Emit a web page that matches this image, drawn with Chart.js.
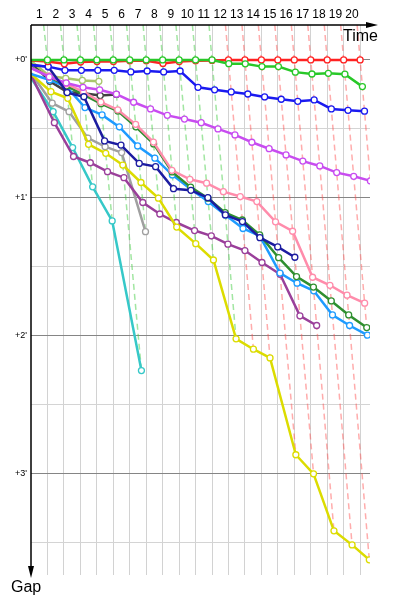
<!DOCTYPE html>
<html>
<head>
<meta charset="utf-8">
<script src="https://cdn.jsdelivr.net/npm/chart.js@4.4.0/dist/chart.umd.min.js"></script>
<style>
  body { margin: 0; background: #fff; }
</style>
</head>
<body>
<canvas id="gap-chart" width="400" height="600"></canvas>
<script>
// lap index 0..20, gaps to the leader in seconds (one value per completed lap)
const laps = [0, 1, 2, 3, 4, 5, 6, 7, 8, 9, 10, 11, 12, 13, 14, 15, 16, 17, 18, 19, 20];
// leader lap time (s) used to place a lap-k crossing on the time axis
const lapSec = [null, 65, 72, 74, 75, 79, 78, 81, 85, 79, 80, 83, 83, 85, 82, 83, 85, 84, 85, 83, 84];

const gapGreen  = [0, 0, 0, 0, 0, 0, 0, 0, 0, 0, 0, 0, 1.6, 1.7, 2.9, 2.9, 5.3, 6.1, 5.8, 6.2, 11.6];
const gapRed    = [0.2, 0.7, 1.7, 0.9, 0.7, 0.7, 0.4, 0.4, 1.5, 0.7, 0.4, 0.2, 0, 0, 0, 0, 0, 0, 0, 0, 0];
const gapBlue   = [2.2, 2.9, 4.5, 4.5, 4.5, 4.5, 5.2, 4.8, 5.2, 4.8, 11.9, 13.0, 13.9, 14.8, 16.1, 17.1, 18.0, 17.4, 21.3, 21.9, 22.3];
const gapNavy   = [2.2, 3.0, 14.2, 16.0, 35.2, 37.0, 45.0, 46.4, 56.0, 56.7, 59.9, 67.4, 70.3, 77.3, 81.3, 85.8];
const gapViolet = [3.5, 7.4, 10.0, 11.9, 13.0, 14.9, 18.4, 21.3, 24.1, 25.7, 27.3, 30.0, 32.6, 35.8, 38.6, 41.3, 44.0, 46.1, 49.0, 50.6, 52.6];
const gapPink   = [3.5, 7.0, 10.4, 13.9, 18.3, 21.7, 28.0, 35.7, 48.0, 51.9, 53.6, 57.3, 59.4, 61.6, 70.4, 74.5, 94.5, 98.0, 102.3, 105.8];
const gapDkGreen = [3.0, 7.4, 11.3, 15.2, 19.0, 22.2, 29.1, 36.5, 48.7, 55.3, 60.1, 66.4, 69.6, 76.1, 86.0, 94.2, 98.8, 104.8, 110.9, 116.4];
const gapLtBlue = [6.1, 8.7, 11.7, 20.7, 23.9, 29.1, 37.4, 42.7, 50.0, 56.2, 61.6, 67.4, 73.3, 76.5, 92.7, 97.1, 100.4, 110.9, 115.5, 119.7];
const gapYellow = [6.1, 13.8, 16.7, 36.7, 40.6, 45.7, 53.3, 60.1, 72.7, 79.9, 87.0, 121.3, 125.8, 129.6, 171.7, 180.0, 204.8, 210.9, 217.4];
const gapPurple = [6.5, 27.3, 42.0, 44.7, 48.6, 51.2, 62.0, 67.0, 70.7, 74.2, 76.5, 80.1, 82.9, 88.1, 93.2, 111.3, 115.5];
const gapGray   = [5.7, 18.8, 22.5, 34.0, 37.7, 40.3, 74.7];
const gapCyan   = [7.8, 22.5, 38.1, 55.2, 70.0, 135.1];
const gapOlive  = [0.4, 7.0, 8.0, 8.9, 9.3];
const gapDkGray = [0.9, 9.3, 13.9, 14.5, 15.5, 15.0];

const yTicks = [0, 30, 60, 90, 120, 150, 180, 210];
const yMin = -15.2;
const yMax = 224;
const xMax = 20.6;

const cars = [
  { gaps: gapGreen, color: '#28c828' },
  { gaps: gapRed, color: '#ff2222' },
  { gaps: gapBlue, color: '#1a1af0' },
  { gaps: gapNavy, color: '#1c1ca0' },
  { gaps: gapViolet, color: '#c84cf0' },
  { gaps: gapPink, color: '#ff8cab' },
  { gaps: gapDkGreen, color: '#2f8f2f' },
  { gaps: gapLtBlue, color: '#1e9bff' },
  { gaps: gapYellow, color: '#dcdc00' },
  { gaps: gapPurple, color: '#9a3f9a' },
  { gaps: gapGray, color: '#a0a0a0' },
  { gaps: gapCyan, color: '#36c8c8' },
  { gaps: gapOlive, color: '#a8c66c' },
  { gaps: gapDkGray, color: '#404040' },
];

const dashColors = { '#28c828': 'rgba(70,205,70,0.5)', '#ff2222': 'rgba(255,70,70,0.45)' };

function timeX(lap, gap) {
  return lap === 0 ? 0 : lap + gap / lapSec[lap];
}

const carDatasets = cars.map(car => ({
  data: car.gaps.map((g, i) => ({ x: timeX(laps[i], g), y: g })),
  borderColor: car.color,
  backgroundColor: '#ffffff',
  borderWidth: 2.5,
  pointBorderColor: car.color,
  pointBackgroundColor: '#ffffff',
  pointBorderWidth: 1.3,
  pointRadius: ctx => ctx.dataIndex === 0 ? 0 : 3,
  showLine: true,
  tension: 0,
  order: 0,
}));

// one slanted lap line per lap, from the top edge to the last car on that lap
const lapLines = laps.slice(1).map(k => {
  const onLap = cars.filter(c => c.gaps.length > k);
  const last = Math.max(...onLap.map(c => c.gaps[k]));
  const leader = onLap.reduce((a, b) => (b.gaps[k] < a.gaps[k] ? b : a));
  return {
    data: [{ x: timeX(k, yMin), y: yMin }, { x: timeX(k, last), y: last }],
    borderColor: dashColors[leader.color],
    borderWidth: 1.5,
    borderDash: [6, 4],
    pointRadius: 0,
    showLine: true,
    order: 5,
  };
});

const axisDecor = {
  id: 'axisDecor',
  afterDraw(chart) {
    const { ctx, chartArea } = chart;
    const l = chartArea.left, t = chartArea.top, r = chartArea.right, b = chartArea.bottom;
    ctx.save();
    ctx.strokeStyle = '#000';
    ctx.fillStyle = '#000';
    ctx.lineWidth = 1.5;
    ctx.beginPath();
    ctx.moveTo(l, t);
    ctx.lineTo(r + 2, t);
    ctx.moveTo(l, t);
    ctx.lineTo(l, b - 4);
    ctx.stroke();
    ctx.beginPath();
    ctx.moveTo(r - 4, t - 3);
    ctx.lineTo(r + 8, t);
    ctx.lineTo(r - 4, t + 3);
    ctx.closePath();
    ctx.fill();
    ctx.beginPath();
    ctx.moveTo(l - 3, b - 9);
    ctx.lineTo(l, b + 3);
    ctx.lineTo(l + 3, b - 9);
    ctx.closePath();
    ctx.fill();
    ctx.font = '16px "Liberation Sans", Arial, sans-serif';
    ctx.textAlign = 'right';
    ctx.textBaseline = 'alphabetic';
    ctx.fillText('Time', r + 8, t + 16);
    ctx.textAlign = 'left';
    ctx.fillText('Gap', 11, b + 17);
    ctx.restore();
  }
};

new Chart(document.getElementById('gap-chart'), {
  type: 'scatter',
  data: { datasets: [...carDatasets, ...lapLines] },
  options: {
    responsive: false,
    devicePixelRatio: 1,
    animation: false,
    layout: { padding: { left: 0, top: 0, right: 30, bottom: 25 } },
    plugins: { legend: { display: false }, tooltip: { enabled: false } },
    scales: {
      x: {
        type: 'linear',
        position: 'top',
        min: 0,
        max: xMax,
        afterBuildTicks: scale => { scale.ticks = laps.map(v => ({ value: v })); },
        afterFit: scale => { scale.height = 25; },
        border: { display: false },
        grid: {
          drawTicks: false,
          color: ctx => (ctx.tick && ctx.tick.value === 0 ? 'rgba(0,0,0,0)' : '#d2d2d2'),
          lineWidth: 1,
        },
        ticks: {
          autoSkip: false,
          maxRotation: 0,
          padding: 3,
          labelOffset: -8.2,
          color: '#000',
          font: { family: '"Liberation Sans", Arial, sans-serif', size: 12 },
          callback: v => (v === 0 ? '' : String(v)),
        },
      },
      y: {
        type: 'linear',
        reverse: true,
        min: yMin,
        max: yMax,
        afterBuildTicks: scale => { scale.ticks = yTicks.map(v => ({ value: v })); },
        afterFit: scale => { scale.width = 31; },
        border: { display: false },
        grid: {
          drawTicks: false,
          color: ctx => (ctx.tick && ctx.tick.value % 60 === 0 ? '#858585' : '#d4d4d4'),
          lineWidth: 1,
        },
        ticks: {
          padding: 4,
          color: '#000',
          font: { family: '"Liberation Sans", Arial, sans-serif', size: 9 },
          callback: v => (v % 60 === 0 ? "+" + (v / 60) + "'" : ''),
        },
      },
    },
  },
  plugins: [axisDecor],
});
</script>
</body>
</html>
